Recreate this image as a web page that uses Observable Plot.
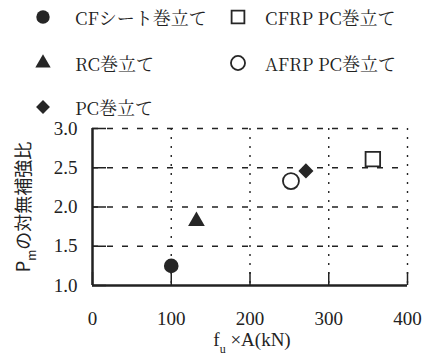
<!DOCTYPE html>
<html><head><meta charset="utf-8">
<script src="https://cdn.jsdelivr.net/npm/d3@7"></script>
<script src="https://cdn.jsdelivr.net/npm/@observablehq/plot@0.6"></script>
<style>
body{margin:0;background:#fff;}
#wrap{position:relative;width:426px;height:360px;overflow:hidden;}
#legend{position:absolute;left:0;top:0;width:426px;height:125px;font-family:'Noto Serif CJK JP';font-size:18px;color:#222;pointer-events:none;}
.item{position:absolute;height:24px;line-height:24px;white-space:nowrap;}
.item svg{position:absolute;top:0;}
</style></head><body><div id="wrap"><div id="chart"></div><div id="legend"></div></div>
<script>
// data
const series = ["CFシート巻立て", "RC巻立て", "PC巻立て", "CFRP PC巻立て", "AFRP PC巻立て"];
const symbols = ["circle", "triangle", "diamond2", "square", "circle"];
const filled = [true, true, true, false, false];
const fuA = [100, 132, 271, 356, 252];
const ratio = [1.25, 1.82, 2.46, 2.61, 2.33];
const xTicks = [0, 100, 200, 300, 400];
const yTicks = [1.0, 1.5, 2.0, 2.5, 3.0];
const xGrid = [100, 200, 300, 400];
const yGrid = [1.5, 2.0, 2.5, 3.0];

const rows = series.map((s, i) => ({series: s, symbol: symbols[i], filled: filled[i], x: fuA[i], y: ratio[i]}));
const radius = {"circle-f": 7.3, "triangle-f": 6.2, "diamond2-f": 6.8, "square-o": 8.2, "circle-o": 8};
const ink = "#262626";
const serifFont = "Liberation Serif";

const dotMarks = Object.keys(radius).map(key => {
  const [sym, f] = key.split("-");
  const data = rows.filter(d => d.symbol === sym && (d.filled ? "f" : "o") === f);
  return Plot.dot(data, {x: "x", y: "y", symbol: sym, r: radius[key],
    fill: f === "f" ? ink : "white", stroke: f === "f" ? "none" : ink, strokeWidth: 1.8});
});

const chart = Plot.plot({
  width: 426, height: 360,
  marginLeft: 92, marginRight: 19, marginTop: 128, marginBottom: 75,
  style: {fontFamily: serifFont, fontSize: "19px", color: "#222", background: "transparent", overflow: "visible"},
  x: {domain: [0, 400]},
  y: {domain: [1, 3]},
  marks: [
    Plot.gridX(xGrid, {stroke: "#222", strokeOpacity: 1, strokeDasharray: "2,7", strokeWidth: 1.4}),
    Plot.gridY(yGrid, {stroke: "#222", strokeOpacity: 1, strokeDasharray: "6,9", strokeWidth: 1.3}),
    Plot.axisX(xTicks, {tickSize: -13, tickPadding: 39, label: null, strokeWidth: 1.5, fontFamily: serifFont}),
    Plot.axisY(yTicks, {tickSize: -14, tickPadding: 29, tickFormat: d3.format(".1f"), label: null, strokeWidth: 1.5, fontFamily: serifFont}),
    Plot.ruleX([0], {strokeWidth: 2.5, stroke: "#222"}),
    Plot.ruleY([1], {strokeWidth: 2.5, stroke: "#222"}),
    ...dotMarks
  ]
});
document.getElementById("chart").appendChild(chart);

const svg = d3.select(chart);
// x title
const xt = svg.append("text").attr("x", 252).attr("y", 346).attr("text-anchor", "middle")
  .style("font-family", "'Liberation Serif'").attr("font-size", 19).attr("fill", "#222");
xt.append("tspan").text("f");
xt.append("tspan").attr("dy", 7).attr("font-size", 12).text("u");
xt.append("tspan").attr("dy", -7).text(" ×A(kN)");
// y title
const yt = svg.append("text").attr("transform", "translate(30,207) rotate(-90)").attr("text-anchor", "middle")
  .style("font-family", "'Noto Sans CJK JP'").attr("font-size", 18).attr("fill", "#222");
yt.append("tspan").text("P");
yt.append("tspan").attr("dy", 6).attr("font-size", 12).text("m");
yt.append("tspan").attr("dy", -6).text("の対無補強比");

// legend
const legend = d3.select("#legend");
const pos = [[43, 17], [43, 63], [43, 107], [238, 17], [238, 63]];
const textX = [75, 75, 75, 265, 265];
const typeMap = {circle: d3.symbolCircle, triangle: d3.symbolTriangle, diamond2: d3.symbolDiamond2, square: d3.symbolSquare};
rows.forEach((d, i) => {
  const [cx, cy] = pos[i];
  const it = legend.append("div").attr("class", "item").style("left", (cx - 12) + "px").style("top", (cy - 12) + "px");
  const s = it.append("svg").attr("width", 24).attr("height", 24).style("left", "0px");
  const r = radius[d.symbol + (d.filled ? "-f" : "-o")] * (d.filled ? 0.92 : 0.88);
  s.append("path").attr("transform", "translate(12,12)")
    .attr("d", d3.symbol(typeMap[d.symbol], Math.PI * r * r)())
    .attr("fill", d.filled ? ink : "white").attr("stroke", d.filled ? "none" : ink).attr("stroke-width", 1.8);
  it.append("span").style("position", "absolute").style("left", (textX[i] - cx + 12) + "px").text(d.series);
});
</script>
</body></html>
